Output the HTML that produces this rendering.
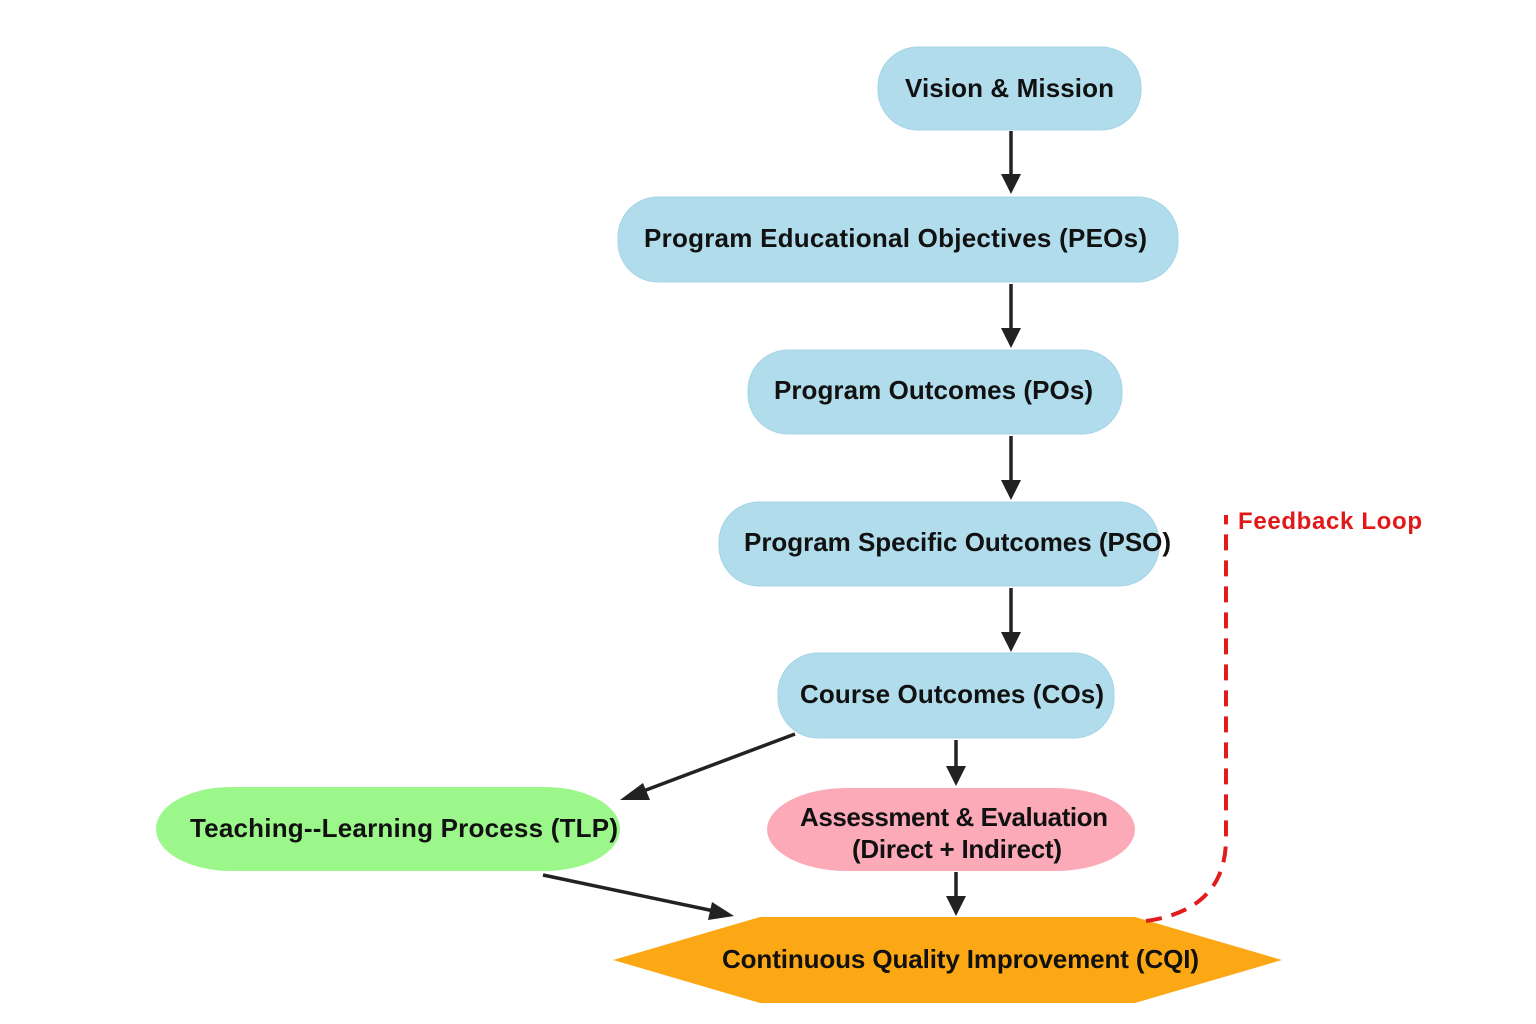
<!DOCTYPE html>
<html><head><meta charset="utf-8"><style>
html,body{margin:0;padding:0;background:#fff;}
svg{display:block;}
text{font-family:"Liberation Sans",Arial,sans-serif;font-weight:bold;fill:#111;}
</style></head><body>
<svg width="1536" height="1024" viewBox="0 0 1536 1024" xmlns="http://www.w3.org/2000/svg">
<g stroke="#222" stroke-width="3.5" fill="none">
<line x1="1011" y1="131" x2="1011" y2="176"/>
<line x1="1011" y1="284" x2="1011" y2="330"/>
<line x1="1011" y1="436" x2="1011" y2="482"/>
<line x1="1011" y1="588" x2="1011" y2="634"/>
<line x1="956" y1="740" x2="956" y2="768"/>
<line x1="956" y1="872" x2="956" y2="898"/>
<line x1="795" y1="734" x2="638" y2="793"/>
<line x1="543" y1="875" x2="714" y2="911"/>
</g>
<g fill="#222">
<path d="M1001,174 L1021,174 L1011,194 z"/>
<path d="M1001,328 L1021,328 L1011,348 z"/>
<path d="M1001,480 L1021,480 L1011,500 z"/>
<path d="M1001,632 L1021,632 L1011,652 z"/>
<path d="M946,766 L966,766 L956,786 z"/>
<path d="M946,896 L966,896 L956,916 z"/>
<path d="M620,800 L643,783 L650,800 z"/>
<path d="M734,916 L712,902 L708,920 z"/>
</g>
<rect x="878" y="47" width="263" height="83" rx="40" fill="#b0dcec" stroke="#a4d4e6"/>
<rect x="618" y="197" width="560" height="85" rx="40" fill="#b0dcec" stroke="#a4d4e6"/>
<rect x="748" y="350" width="374" height="84" rx="40" fill="#b0dcec" stroke="#a4d4e6"/>
<rect x="719" y="502" width="440" height="84" rx="40" fill="#b0dcec" stroke="#a4d4e6"/>
<rect x="778" y="653" width="336" height="85" rx="40" fill="#b0dcec" stroke="#a4d4e6"/>
<rect x="156" y="787" width="464" height="84" rx="75" ry="42" fill="#9cf78a"/>
<rect x="767" y="788" width="368" height="83" rx="80" ry="42" fill="#fdaab8"/>
<path d="M613,960 L760,917 L1135,917 L1282,960 L1135,1003 L760,1003 z" fill="#fca814"/>
<path d="M1146,921 Q1225,910 1226,840 L1226,515" stroke="#e01c1c" stroke-width="4" fill="none" stroke-dasharray="16,10"/>
<text x="1238" y="529" font-size="24" style="fill:#e01818" textLength="184">Feedback Loop</text>
<text x="905" y="97" font-size="26" textLength="209">Vision &amp; Mission</text>
<text x="644" y="247" font-size="26" textLength="503">Program Educational Objectives (PEOs)</text>
<text x="774" y="399" font-size="26" textLength="319">Program Outcomes (POs)</text>
<text x="744" y="551" font-size="26" textLength="427">Program Specific Outcomes (PSO)</text>
<text x="800" y="703" font-size="26" textLength="304">Course Outcomes (COs)</text>
<text x="190" y="837" font-size="26" textLength="428">Teaching--Learning Process (TLP)</text>
<text x="800" y="826" font-size="26" textLength="308">Assessment &amp; Evaluation</text>
<text x="852" y="858" font-size="26" textLength="210">(Direct + Indirect)</text>
<text x="722" y="968" font-size="26" textLength="477">Continuous Quality Improvement (CQI)</text>
</svg>
</body></html>
